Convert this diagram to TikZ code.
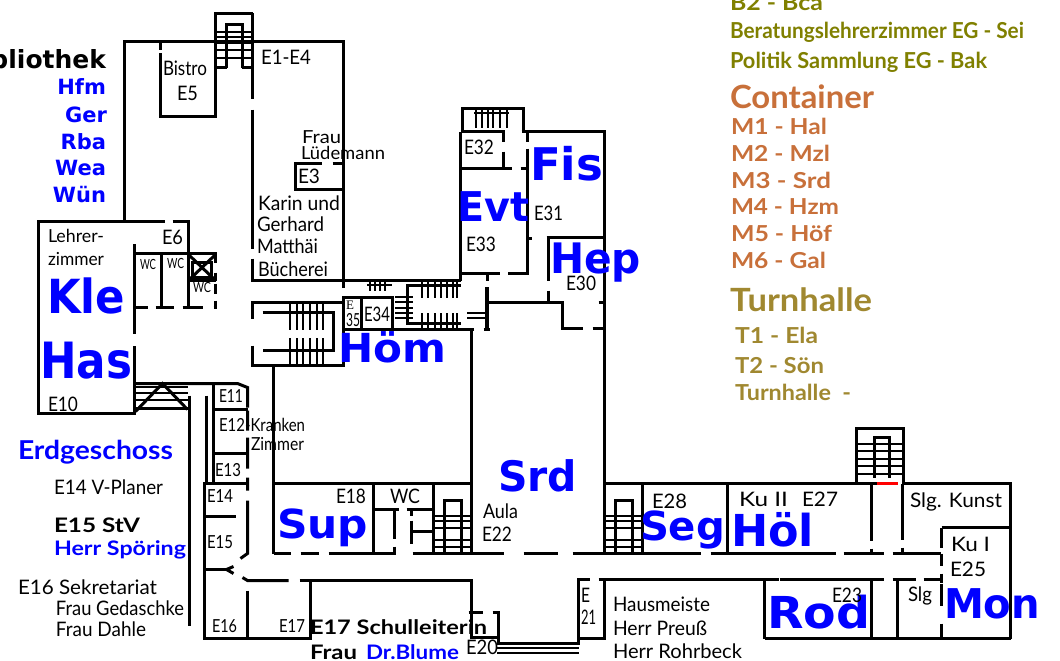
\documentclass[tikz,border=0pt]{standalone}
\usepackage{fontspec}
\usepackage{graphicx}
\setmainfont{Lato}
\newfontfamily\bigf{DejaVu Sans}
\newfontfamily\serf{Liberation Serif}
\definecolor{olivet}{RGB}{128,128,0}
\definecolor{contc}{RGB}{200,112,58}
\definecolor{turnc}{RGB}{160,136,48}
\newcommand\fitw[2]{\setbox0\hbox{#2}\pgfmathsetmacro\fitr{#1/\the\wd0}\scalebox{\fitr}[1]{\box0}}
\newcommand\lab[6][]{\node[txt,#1] (#2) at (#3,#4) {\fitw{#5}{#6}};}
\tikzset{
  x=1pt,y=-1pt,
  wall/.style={line width=3pt,line cap=butt,line join=miter,black,xshift=0.5pt,yshift=-0.5pt},
  stepline/.style={line width=2pt,line cap=butt,black},
  txt/.style={anchor=base west,inner sep=0pt,outer sep=0pt},
  norm/.style={font=\fontsize{20}{22}\selectfont},
  small/.style={font=\fontsize{18}{20}\selectfont},
  tiny wc/.style={font=\fontsize{14}{16}\selectfont},
  boldt/.style={font=\fontsize{20}{22}\selectfont\bfseries},
  legt/.style={font=\fontsize{22}{24}\selectfont\bfseries},
  big/.style={font=\fontsize{#1}{#1}\bigf\bfseries,text=blue},
  mid/.style={font=\fontsize{21}{24}\bigf\bfseries,text=blue},
  head/.style={font=\fontsize{32}{34}\selectfont\bfseries},
}
\begin{document}
\begin{tikzpicture}
\useasboundingbox (0,0) rectangle (1060,661);
\clip (0,0) rectangle (1060,661);
\fill[white] (0,0) rectangle (1060,661);

% ---- north wing
\draw[wall] (124,221)--(124,41)--(343,41)--(343,287);
\draw[wall] (252,13)--(215,13)--(215,68);
\draw[wall] (252,13)--(252,98) (252,109)--(252,248) (252,258)--(252,280)--(460,280);
\draw[wall] (226,68)--(226,24)--(242,24)--(242,68);
\draw[wall] (215,67)--(226,67) (241,67)--(252,67);
\draw[stepline] (215,32)--(252,32) (215,37)--(252,37) (215,43)--(252,43) (215,50)--(252,50) (215,58)--(252,58);
\draw[wall] (160,41)--(160,50) (160,53)--(160,116)--(215,116)--(215,68);
\draw[wall] (321,163)--(295,163)--(295,189)--(343,189) (332,163)--(343,163);

% ---- Lehrerzimmer
\draw[wall] (164,221)--(38,221)--(38,413)--(134,413)--(134,345);
\draw[wall] (172,221)--(188,221)--(188,307);
\draw[wall] (134,333)--(134,243);
\draw[wall] (134,253)--(215,253)--(215,262) (215,272)--(215,280) (215,283)--(215,293) (215,300)--(215,307);
\draw[wall] (161,253)--(161,307) (188,280)--(215,280);
\draw[wall] (134,307)--(147,307) (155,307)--(173,307) (182,307)--(202,307) (213,307)--(216,307);
\draw[wall] (192,262) rectangle (211,277);
\draw[wall] (189,255)--(214,279) (214,255)--(189,279);

% ---- central stair
\draw[wall] (252,318)--(252,302)--(343,302);
\draw[wall] (262,312)--(333,312)--(333,350)--(262,350);
\draw[wall] (252,345)--(252,365)--(343,365)--(343,297)--(392,297)--(392,329);
\draw[wall] (343,329)--(473,329);
\draw[wall] (361,297)--(361,329);
\draw[wall] (273,365)--(273,553);
\foreach \px in {290,297,303,310,317,323}{\draw[stepline] (\px,302)--(\px,330) (\px,338)--(\px,365);}
\draw[stepline] (367,285)--(392,285);
\foreach \px in {370,375,380,385}{\draw[stepline] (\px,281)--(\px,291);}
\draw[wall] (460,285)--(407,285)--(407,323)--(460,323);
\foreach \px in {422,428,435,441,447,453,457}{\draw[stepline] (\px,280)--(\px,298) (\px,313)--(\px,329);}
\foreach \py in {297,302,308,313,318}{\draw[stepline] (395,\py)--(413,\py);}
\draw[stepline] (467,313)--(486,313) (467,318)--(486,318);

% ---- east-centre block
\draw[wall] (460,131)--(460,280);
\draw[wall] (462,131)--(462,108)--(523,108)--(523,131);
\foreach \px in {476,482,488,493,500,507}{\draw[stepline] (\px,110)--(\px,128);}
\draw[stepline] (474,113)--(509,113);
\draw[wall] (460,131)--(503,131)--(503,141) (503,151)--(503,168);
\draw[wall] (460,168)--(511,168) (520,168)--(527,168);
\draw[wall] (521,131)--(526,131) (526,131)--(605,131);
\draw[wall] (527,131)--(527,141) (527,148)--(527,273)--(507,273) (499,273)--(460,273);
\draw[wall] (527,238)--(531,238);
\draw[wall] (487,273)--(487,280);
\draw[line width=4pt] (487,287)--(487,330);
\draw[wall] (483,329)--(489,329);
\draw[wall] (487,302)--(562,302)--(562,328)--(582,328) (592,328)--(605,328) (598,302)--(604,302);
\draw[wall] (546,237)--(604,237);
\draw[wall] (548,237)--(548,280) (548,290)--(548,302);
\draw[wall] (604,131)--(604,553);
\draw[wall] (471,329)--(471,553);

% ---- south band west
\draw[wall] (273,483)--(471,483);
\draw[wall] (273,553)--(290,553) (300,553)--(318,553) (328,553)--(395,553) (412,553)--(503,553) (523,553)--(557,553) (572,553)--(642,553);
\draw[wall] (373,483)--(373,553);
\draw[wall] (373,509)--(398,509) (406,509)--(433,509);
\draw[wall] (394,509)--(394,538) (394,546)--(394,553);
\draw[wall] (411,509)--(411,515) (411,520)--(411,543);
\draw[wall] (412,531)--(433,531);
\draw[wall] (433,483)--(433,553);
\foreach \py in {516,521,528,540,547}{\draw[stepline] (433,\py)--(471,\py) (605,\py)--(642,\py);}
\draw[wall] (444,553)--(444,500)--(461,500)--(461,553);
\draw[wall] (615,553)--(615,500)--(632,500)--(632,553);
\draw[wall] (642,483)--(642,553);
\draw[wall] (604,483)--(857,483) (903,483)--(1010,483)--(1010,638);
\draw[wall] (857,483)--(876,483);
\draw[wall,red] (876,483)--(897,483);
\draw[wall] (856,483)--(856,428)--(903,428)--(903,483);
\draw[wall] (874,477)--(874,437)--(889,437)--(889,477);
\foreach \py in {444,451,459,466,474}{\draw[stepline] (856,\py)--(903,\py);}
\draw[wall] (727,483)--(727,553);
\draw[wall] (642,553)--(700,553) (710,553)--(835,553) (843,553)--(883,553) (892,553)--(940,553);
\draw[wall] (871,483)--(871,540) (871,548)--(871,553);
\draw[wall] (902,483)--(902,539) (902,547)--(902,553);
\draw[wall] (941,527)--(1010,527);
\draw[wall] (941,527)--(941,547) (941,553)--(941,565) (941,573)--(941,582) (941,583)--(941,605) (941,623)--(941,638);
\draw[wall] (764,638)--(1010,638);
\draw[wall] (764,579)--(778,579) (779,579)--(883,579) (892,579)--(915,579) (923,579)--(941,579);
\draw[wall] (764,579)--(764,638) (871,579)--(871,638) (897,579)--(897,638);

% ---- south band, corridor south side
\draw[wall] (299,580)--(471,580)--(471,637)--(498,637);
\draw[wall] (468,612)--(482,612) (492,612)--(498,612)--(498,643)--(579,643);
\draw[stepline] (497,648)--(579,648) (497,653)--(579,653);
\draw[wall] (578,643)--(578,579)--(589,579) (598,579)--(764,579);
\draw[wall] (604,579)--(604,638)--(578,638);

% ---- west corridor
\draw[wall] (134,383)--(237,383)--(247,387)--(247,407) (247,410)--(247,430) (247,437)--(247,453) (247,453)--(247,468) (247,477)--(247,490) (247,500)--(247,553)--(240,558);
\foreach \py in {387,393,400}{\draw[stepline] (134,\py)--(188,\py);}
\draw[wall] (134,408)--(189,408);
\draw[wall] (135,411)--(162,383)--(187,409);
\draw[wall] (189,395)--(189,625);
\draw[wall] (206,395)--(206,483);
\draw[wall] (213,383)--(213,483);
\draw[wall] (213,409)--(247,409) (213,453)--(247,453);
\draw[wall] (247,483)--(204,483)--(204,638)--(310,638)--(310,580);
\draw[wall] (204,516)--(235,516) (204,569)--(226,569);
\draw[wall] (233,566)--(226,569)--(233,573);
\draw[wall] (242,577)--(247,580)--(288,580);
\draw[wall] (247,590)--(247,638);

% ---- large blue labels
\lab[big=47]{kle}{47}{313}{78}{Kle}
\lab[big=50]{has}{40}{378}{92}{Has}
\lab[big=45]{fis}{530}{180}{73}{Fis}
\lab[big=41]{evt}{457}{221}{72}{Evt}
\lab[big=42]{hep}{550}{273}{91}{Hep}
\lab[big=40]{hom}{338}{362}{108}{Höm}
\lab[big=42]{srd}{498}{491}{79}{Srd}
\lab[big=40]{sup}{277}{538}{91}{Sup}
\lab[big=40]{seg}{640}{540}{85}{Seg}
\lab[big=44]{hol}{731}{546}{83}{Höl}
\lab[big=44]{rod}{767}{628}{103}{Rod}
\lab[big=41]{mon}{944}{618}{96}{Mon}

% ---- Bibliothek list
\node[txt,anchor=base east,font=\fontsize{25}{27}\bigf\bfseries] (bib) at (106,68) {Bibliothek};
\node[txt,anchor=base east,mid] (hfm) at (106,95) {Hfm};
\node[txt,anchor=base east,mid] (ger) at (107,122) {Ger};
\node[txt,anchor=base east,mid] (rba) at (106,149) {Rba};
\node[txt,anchor=base east,mid] (wea) at (106,175) {Wea};
\node[txt,anchor=base east,mid] (wun) at (106,202) {Wün};

% ---- room labels
\lab[norm]{e14a}{261}{64}{50}{E1-E4}
\lab[norm]{bistro}{163}{76}{44}{Bistro}
\lab[norm]{e5}{177}{100}{21}{E5}
\lab[small]{frau}{302}{143}{39}{Frau}
\lab[small]{lued}{301}{159}{84}{Lüdemann}
\lab[norm]{e3}{298}{183}{22}{E3}
\lab[norm]{karin}{258}{210}{82}{Karin und}
\lab[norm]{gerh}{257}{231}{67}{Gerhard}
\lab[norm]{matt}{257}{253}{61}{Matthäi}
\lab[norm]{buech}{258}{276}{70}{Bücherei}
\lab[small]{lehr}{48}{242}{56}{Lehrer-}
\lab[small]{zimm}{48}{265}{56}{zimmer}
\lab[norm]{e6}{162}{244}{21}{E6}
\lab[tiny wc]{wca}{140}{269}{16}{WC}
\lab[tiny wc]{wcb}{167}{268}{17}{WC}
\lab[tiny wc]{wcc}{193}{292}{18}{WC}
\node[txt,font=\fontsize{13}{14}\serf] (e35a) at (346,309) {E};
\lab[small]{e35b}{346}{326}{14}{35}
\lab[norm]{e34}{364}{321}{26}{E34}
\lab[norm]{e10}{48}{411}{30}{E10}
\lab[small]{e11}{219}{402}{24}{E11}
\lab[small]{e12}{219}{431}{86}{E12-Kranken}
\lab[small]{zimmer}{251}{450}{53}{Zimmer}
\lab[small]{e13}{215}{476}{26}{E13}
\lab[small]{e14}{207}{502}{26}{E14}
\lab[small]{e15}{207}{548}{26}{E15}
\lab[small]{e16}{212}{632}{25}{E16}
\lab[small]{e17}{279}{632}{26}{E17}
\lab[norm]{e18}{336}{503}{30}{E18}
\lab[norm]{wcd}{390}{503}{30}{WC}
\lab[norm]{aula}{483}{518}{35}{Aula}
\lab[norm]{e22}{482}{541}{30}{E22}
\lab[norm]{e21a}{581}{602}{9}{E}
\lab[norm]{e21b}{581}{624}{15}{21}
\lab[norm]{e28}{652}{508}{35}{E28}
\lab[norm]{ku2}{739}{506}{49}{Ku II}
\lab[norm]{e27}{802}{506}{36}{E27}
\lab[norm]{slgk}{910}{507}{92}{Slg. Kunst}
\lab[norm]{ku1}{951}{551}{39}{Ku I}
\lab[norm]{e25}{950}{576}{36}{E25}
\lab[norm]{slg}{908}{601}{24}{Slg}
\lab[norm]{e23}{832}{602}{30}{E23}
\lab[norm]{e30}{566}{290}{30}{E30}
\lab[norm]{e31}{534}{220}{29}{E31}
\lab[norm]{e32}{464}{154}{30}{E32}
\lab[norm]{e33}{466}{251}{30}{E33}
\lab[norm]{e20}{466}{654}{32}{E20}
\lab[norm]{haus}{613}{611}{97}{Hausmeiste}
\lab[norm]{preuss}{613}{635}{94}{Herr Preuß}
\lab[norm]{rohr}{613}{658}{129}{Herr Rohrbeck}

% ---- lower left texts
\lab[font=\fontsize{26}{28}\selectfont\bfseries,text=blue]{erd}{18}{459}{155}{Erdgeschoss}
\lab[norm]{vpl}{54}{494}{109}{E14 V-Planer}
\lab[boldt]{stv}{54}{532}{86}{E15 StV}
\lab[boldt,text=blue]{spoer}{54}{555}{132}{Herr Spöring}
\lab[norm]{sekr}{18}{594}{139}{E16 Sekretariat}
\lab[norm]{geda}{56}{615}{128}{Frau Gedaschke}
\lab[norm]{dahl}{56}{636}{90}{Frau Dahle}
\lab[boldt]{schul}{310}{634}{177}{E17 Schulleiterin}
\lab[boldt]{frd}{310}{659}{47}{Frau}
\lab[boldt,text=blue]{blume}{366}{659}{93}{Dr.Blume}

% ---- legend
\lab[legt,text=olivet]{b2}{730}{11}{93}{B2 - Bca}
\lab[legt,text=olivet]{bera}{730}{39}{294}{Beratungslehrerzimmer EG - Sei}
\lab[legt,text=olivet]{poli}{730}{69}{257}{Politik Sammlung EG - Bak}
\lab[head,text=contc]{cont}{730}{108}{144}{Container}
\lab[legt,text=contc]{m1}{731}{134}{96}{M1 - Hal}
\lab[legt,text=contc]{m2}{731}{161}{99}{M2 - Mzl}
\lab[legt,text=contc]{m3}{731}{188}{100}{M3 - Srd}
\lab[legt,text=contc]{m4}{731}{214}{108}{M4 - Hzm}
\lab[legt,text=contc]{m5}{731}{241}{101}{M5 - Höf}
\lab[legt,text=contc]{m6}{731}{268}{95}{M6 - Gal}
\lab[head,text=turnc]{turn}{730}{311}{142}{Turnhalle}
\lab[legt,text=turnc]{t1}{735}{343}{83}{T1 - Ela}
\lab[legt,text=turnc]{t2}{735}{373}{89}{T2 - Sön}
\lab[legt,text=turnc]{t3}{735}{400}{116}{Turnhalle\ \ -}
\end{tikzpicture}
\end{document}
